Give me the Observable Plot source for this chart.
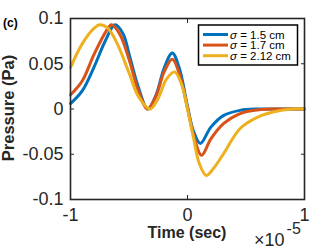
<!DOCTYPE html>
<html>
<head>
<meta charset="utf-8">
<script src="https://cdn.jsdelivr.net/npm/d3@7"></script>
<script src="https://cdn.jsdelivr.net/npm/@observablehq/plot@0.6"></script>
<style>
  html, body { margin: 0; padding: 0; background: #fff; }
  #chart { width: 335px; height: 252px; }
</style>
</head>
<body>
<div id="chart"></div>
<script>
// Series labels and colours
const seriesNames = ["σ = 1.5 cm", "σ = 1.7 cm", "σ = 2.12 cm"];
const seriesSigma = ["1.5", "1.7", "2.12"];
const seriesColors = ["#0072BD", "#D95319", "#EDB120"];

// Time (×1e-5 s) and pressure (Pa) values
const tBlue = [-1, -0.9, -0.8, -0.7, -0.62, -0.55, -0.5, -0.42, -0.34, -0.27, -0.2, -0.13, -0.07, 0, 0.05, 0.11, 0.2, 0.31, 0.45, 0.6, 0.8, 1];
const pBlue = [0.006, 0.020, 0.046, 0.076, 0.093, 0.083, 0.061, 0.024, 0.0, 0.015, 0.045, 0.062, 0.045, 0.003, -0.024, -0.038, -0.020, -0.007, -0.0015, 0, 0, 0];

const tRed = [-1, -0.9, -0.8, -0.7, -0.65, -0.58, -0.5, -0.42, -0.34, -0.27, -0.2, -0.13, -0.07, 0, 0.05, 0.12, 0.2, 0.31, 0.45, 0.6, 0.75, 1];
const pRed = [0.0157, 0.031, 0.060, 0.085, 0.093, 0.083, 0.055, 0.020, 0.0, 0.014, 0.041, 0.055, 0.039, 0.001, -0.028, -0.051, -0.033, -0.016, -0.005, -0.001, 0, 0];

const tYellow = [-1, -0.9, -0.8, -0.75, -0.68, -0.6, -0.5, -0.42, -0.32, -0.25, -0.18, -0.11, -0.05, 0, 0.05, 0.1, 0.16, 0.22, 0.31, 0.45, 0.6, 0.74, 0.9, 1];
const pYellow = [0.046, 0.072, 0.089, 0.093, 0.089, 0.072, 0.040, 0.014, 0.0, 0.012, 0.033, 0.041, 0.027, 0.0, -0.031, -0.060, -0.0735, -0.066, -0.049, -0.0215, -0.009, -0.003, 0, 0];

// Axis ticks
const xTicks = [-1, 0, 1];
const xTickLabels = ["-1", "0", "1"];
const yTicks = [0.1, 0.05, 0, -0.05, -0.1];
const yTickLabels = ["0.1", "0.05", "0", "-0.05", "-0.1"];

const mk = (ts, ps, name) => ts.map((t, i) => ({t, p: ps[i], name}));
const data = [
  ...mk(tBlue, pBlue, seriesNames[0]),
  ...mk(tRed, pRed, seriesNames[1]),
  ...mk(tYellow, pYellow, seriesNames[2])
];

const axisColor = "#262626";
const font = "Liberation Sans, Helvetica, Arial, sans-serif";

const chart = Plot.plot({
  width: 335,
  height: 252,
  marginLeft: 70,
  marginRight: 31,
  marginTop: 18,
  marginBottom: 53,
  style: {fontFamily: font, background: "#fff", color: axisColor, overflow: "visible"},
  x: {domain: [-1, 1]},
  y: {domain: [-0.1, 0.1]},
  color: {domain: seriesNames, range: seriesColors},
  marks: [
    // labels
    Plot.axisY({anchor: "left", ticks: yTicks, tickSize: 0, tickPadding: 7, fontSize: 18,
      tickFormat: d => yTickLabels[yTicks.indexOf(d)], label: null, fill: axisColor}),
    Plot.axisX({anchor: "bottom", ticks: xTicks, tickSize: 0, tickPadding: 9, fontSize: 18,
      tickFormat: d => xTickLabels[xTicks.indexOf(d)], label: null, fill: axisColor}),
    // inward ticks on all four sides
    Plot.axisY({anchor: "left", ticks: yTicks, tickSize: -4, tickFormat: () => "", label: null, stroke: axisColor}),
    Plot.axisY({anchor: "right", ticks: yTicks, tickSize: -4, tickFormat: () => "", label: null, stroke: axisColor}),
    Plot.axisX({anchor: "bottom", ticks: xTicks, tickSize: -4, tickFormat: () => "", label: null, stroke: axisColor}),
    Plot.axisX({anchor: "top", ticks: xTicks, tickSize: -4, tickFormat: () => "", label: null, stroke: axisColor}),
    Plot.line(data, {x: "t", y: "p", z: "name", stroke: "name", strokeWidth: 3, curve: "catmull-rom"}),
    Plot.frame({stroke: axisColor, strokeWidth: 1.6})
  ]
});

document.getElementById("chart").appendChild(chart);

const svg = d3.select(chart);

// Axis titles
svg.append("text")
  .attr("x", 187).attr("y", 238)
  .attr("text-anchor", "middle")
  .attr("font-family", font).attr("font-size", 16).attr("font-weight", "bold")
  .attr("fill", axisColor)
  .text("Time (sec)");

svg.append("text")
  .attr("transform", "translate(14,108) rotate(-90)")
  .attr("text-anchor", "middle")
  .attr("font-family", font).attr("font-size", 16.5).attr("font-weight", "bold")
  .attr("fill", axisColor)
  .text("Pressure (Pa)");

// Exponent label
const ex = svg.append("text")
  .attr("x", 254).attr("y", 246)
  .attr("text-anchor", "start")
  .attr("font-family", font).attr("font-size", 18)
  .attr("fill", axisColor);
ex.append("tspan").text("×10");
ex.append("tspan").attr("dx", 2).attr("dy", -12).attr("font-size", 16).text("-5");

// Panel label
svg.append("text")
  .attr("x", 3).attr("y", 27)
  .attr("text-anchor", "start")
  .attr("font-family", font).attr("font-size", 12).attr("font-weight", "bold")
  .attr("fill", "#000")
  .text("(c)");

// Legend
const lg = svg.append("g");
lg.append("rect")
  .attr("x", 198.5).attr("y", 25).attr("width", 99).attr("height", 40)
  .attr("fill", "#fff").attr("stroke", "#000").attr("stroke-width", 1.5);
seriesNames.forEach((name, i) => {
  const y = 34.5 + i * 10.6;
  lg.append("line")
    .attr("x1", 203).attr("x2", 228).attr("y1", y).attr("y2", y)
    .attr("stroke", seriesColors[i]).attr("stroke-width", 3);
  const t = lg.append("text")
    .attr("x", 230).attr("y", y + 4)
    .attr("text-anchor", "start")
    .attr("font-family", font).attr("font-size", 11.5)
    .attr("fill", "#000");
  t.append("tspan").attr("font-style", "italic").text("σ");
  t.append("tspan").text(" = " + seriesSigma[i] + " cm");
});
</script>
</body>
</html>
